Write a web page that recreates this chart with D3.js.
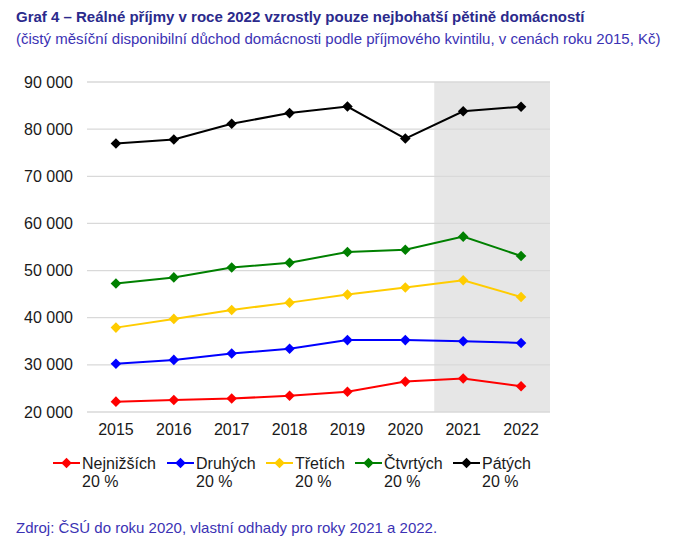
<!DOCTYPE html>
<html>
<head>
<meta charset="utf-8">
<script src="https://cdn.jsdelivr.net/npm/d3@7"></script>
<style>
  body { margin: 0; background: #fff; font-family: "Liberation Sans", Arial, sans-serif; }
</style>
</head>
<body>
<svg id="chart" width="696" height="547"></svg>
<script>
let years = ['2015', '2016', '2017', '2018', '2019', '2020', '2021', '2022']
let estimateYears = ['2021', '2022']
let yTicks = [20000, 30000, 40000, 50000, 60000, 70000, 80000, 90000]

let nejnizsich = [22200, 22550, 22850, 23450, 24300, 26450, 27100, 25450]
let druhych = [30250, 31050, 32400, 33400, 35250, 35250, 35000, 34650]
let tretich = [37900, 39750, 41650, 43200, 44900, 46400, 47950, 44400]
let ctvrtych = [47250, 48550, 50650, 51650, 53950, 54400, 57200, 53100]
let patych = [76950, 77800, 81150, 83400, 84800, 78000, 83800, 84750]

let seriesNames = ['Nejnižších', 'Druhých', 'Třetích', 'Čtvrtých', 'Pátých']
let seriesColors = ['#ff0000', '#0000ff', '#ffcc00', '#008000', '#000000']
let seriesValues = [nejnizsich, druhych, tretich, ctvrtych, patych]

let margin = {top: 82, right: 146, bottom: 135, left: 87}
let width = 696 - margin.left - margin.right
let height = 547 - margin.top - margin.bottom

let svg = d3.select('#chart')

// title + subtitle
svg.append('text')
    .attr('x', 16).attr('y', 22)
    .style('font-size', '15px')
    .style('font-weight', 'bold')
    .attr('fill', '#2b2a8c')
    .text('Graf 4 – Reálné příjmy v roce 2022 vzrostly pouze nejbohatší pětině domácností')

svg.append('text')
    .attr('x', 16).attr('y', 44)
    .style('font-size', '15px')
    .attr('fill', '#3b32b4')
    .text('(čistý měsíční disponibilní důchod domácnosti podle příjmového kvintilu, v cenách roku 2015, Kč)')

let g = svg.append('g')
    .attr('transform', 'translate(' + margin.left + ',' + margin.top + ')')

let x = d3.scaleBand()
    .domain(years)
    .range([0, width])

let y = d3.scaleLinear()
    .domain([20000, 90000])
    .range([height, 0])

// shaded estimate area
g.append('rect')
    .attr('x', x(estimateYears[0]))
    .attr('y', 0)
    .attr('width', x(estimateYears[estimateYears.length - 1]) + x.bandwidth() - x(estimateYears[0]))
    .attr('height', height)
    .attr('fill', '#e6e6e6')

// gridlines
g.selectAll('.grid')
    .data(yTicks)
    .enter().append('line')
    .attr('x1', 0).attr('x2', width)
    .attr('y1', d => y(d)).attr('y2', d => y(d))
    .attr('stroke', '#d9d9d9')
    .attr('stroke-width', 1.3)

// y axis
let fmt = d => d3.format(',')(d).replace(/,/g, ' ')
let yAxis = g.append('g')
    .call(d3.axisLeft(y).tickValues(yTicks).tickFormat(fmt).tickSize(0).tickPadding(14))
yAxis.select('.domain').remove()
yAxis.selectAll('text')
    .style('font-size', '16px')
    .style('font-family', '"Liberation Sans", Arial, sans-serif')
    .attr('fill', '#1a1a1a')

// x axis
let xAxis = g.append('g')
    .attr('transform', 'translate(0,' + height + ')')
    .call(d3.axisBottom(x).tickSize(0).tickPadding(12))
xAxis.select('.domain').remove()
xAxis.selectAll('text')
    .style('font-size', '16px')
    .style('font-family', '"Liberation Sans", Arial, sans-serif')
    .attr('fill', '#1a1a1a')

let line = d3.line()
    .x((d, i) => x(years[i]) + x.bandwidth() / 2)
    .y(d => y(d))

// square rotated 45 degrees -> diamond marker
let marker = d3.symbol().type(d3.symbolSquare).size(56)

seriesValues.forEach((vals, s) => {
    g.append('path')
        .datum(vals)
        .attr('d', line)
        .attr('fill', 'none')
        .attr('stroke', seriesColors[s])
        .attr('stroke-width', 2)

    g.selectAll('.pt' + s)
        .data(vals)
        .enter().append('path')
        .attr('d', marker)
        .attr('transform', (d, i) => 'translate(' + (x(years[i]) + x.bandwidth() / 2) + ',' + y(d) + ') rotate(45)')
        .attr('fill', seriesColors[s])
})

// legend
let legendX = [53, 167, 266, 355, 453]
let legend = svg.append('g')

seriesNames.forEach((name, s) => {
    let lg = legend.append('g')
        .attr('transform', 'translate(' + legendX[s] + ',463)')
    lg.append('line')
        .attr('x1', 0).attr('x2', 27)
        .attr('y1', 0).attr('y2', 0)
        .attr('stroke', seriesColors[s])
        .attr('stroke-width', 2)
    lg.append('path')
        .attr('d', marker)
        .attr('transform', 'translate(13.5,0) rotate(45)')
        .attr('fill', seriesColors[s])
    lg.append('text')
        .attr('x', 29).attr('y', 6)
        .style('font-size', '16px')
        .attr('fill', '#1a1a1a')
        .text(name)
    lg.append('text')
        .attr('x', 29).attr('y', 24)
        .style('font-size', '16px')
        .attr('fill', '#1a1a1a')
        .text('20 %')
})

// source
svg.append('text')
    .attr('x', 16).attr('y', 533)
    .style('font-size', '15px')
    .attr('fill', '#3b32b4')
    .text('Zdroj: ČSÚ do roku 2020, vlastní odhady pro roky 2021 a 2022.')
</script>
</body>
</html>
